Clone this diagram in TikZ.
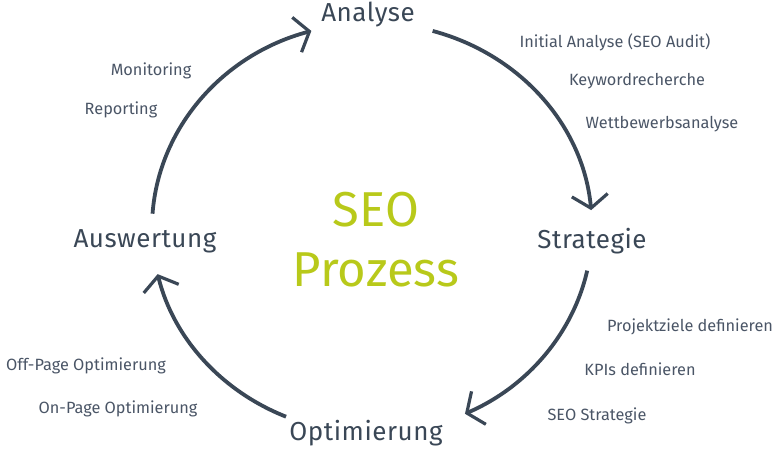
\documentclass[tikz,border=0pt]{standalone}
\usepackage{fontspec}
\setmainfont{Fira Sans}
\usetikzlibrary{arrows.meta}
\definecolor{dk}{HTML}{3A4756}
\definecolor{tx}{HTML}{4A5566}
\definecolor{gr}{HTML}{B8C91A}
\tikzset{
 main/.style={text=dk,font=\fontsize{26}{29}\selectfont\addfontfeature{LetterSpace=2}},
 sub/.style={text=tx,font=\fontsize{16.3}{19}\selectfont},
 cyc/.style={draw=dk,line width=3.8pt,-{Straight Barb[length=13pt,width=36pt,line width=3.2pt]}}
}
\begin{document}
\begin{tikzpicture}[x=1pt,y=1pt]
\useasboundingbox (0,0) rectangle (782,450);
\coordinate (c) at (372,222);
\draw[cyc] (c) ++(74:220 and 205) arc[start angle=74,end angle=5,x radius=220,y radius=205];
\draw[cyc] (c) ++(176:220 and 205) arc[start angle=176,end angle=106,x radius=220,y radius=205];
\draw[cyc] (c) ++(-12:220 and 205) arc[start angle=-12,end angle=-65,x radius=220,y radius=205];
\draw[cyc] (c) ++(-113:220 and 205) arc[start angle=-113,end angle=-167,x radius=220,y radius=205];
\node[main] (an) at (368,435) {Analyse};
\node[main] (st) at (592,209) {Strategie};
\node[main] (op) at (366,17) {Optimierung};
\node[main] (au) at (145,209) {Auswertung};
\node[text=gr,font=\fontsize{49}{52}\selectfont] (seo) at (376,240) {SEO};
\node[text=gr,font=\fontsize{49}{52}\selectfont] (pro) at (376,180) {Prozess};
\node[sub] (a1) at (615,408) {Initial Analyse (SEO Audit)};
\node[sub] (a2) at (637,369) {Keywordrecherche};
\node[sub] (a3) at (662,326) {Wettbewerbsanalyse};
\node[sub] (s1) at (690,123) {Projektziele definieren};
\node[sub] (s2) at (640,81) {KPIs definieren};
\node[sub] (s3) at (597,34) {SEO Strategie};
\node[sub] (o1) at (86,84) {Off-Page Optimierung};
\node[sub] (o2) at (118,41) {On-Page Optimierung};
\node[sub] (m1) at (151,379) {Monitoring};
\node[sub] (m2) at (121,340) {Reporting};
\end{tikzpicture}
\end{document}
